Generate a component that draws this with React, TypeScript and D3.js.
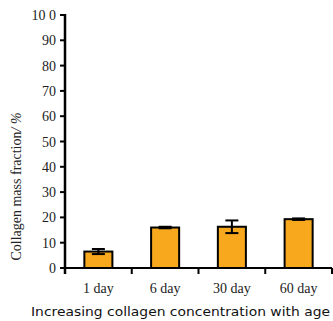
import React from "react";
import * as d3 from "d3";

const categories = ["1 day", "6 day", "30 day", "60 day"];
const values = [6.5, 16.0, 16.3, 19.3];
const errors = [1.0, 0.3, 2.5, 0.3];
const yTicks = [0, 10, 20, 30, 40, 50, 60, 70, 80, 90, 100];
const yTickLabels = ["0", "10", "20", "30", "40", "50", "60", "70", "80", "90", "10 0"];

const W = 333;
const H = 321;
const left = 65;
const right = 332;
const top = 15;
const bottom = 268;

export default function App() {
  const x = d3.scaleBand<string>().domain(categories).range([left, right]).paddingInner(0.58).paddingOuter(0.29);
  const xb = d3.scaleBand<string>().domain(categories).range([left, right]);
  const y = d3.scaleLinear().domain([0, 100]).range([bottom, top]);
  const cap = 13;
  return (
    <svg width={W} height={H} style={{ position: "absolute", left: 0, top: 0, background: "#fff" }}>
      {categories.map((c, i) => (
        <g key={c}>
          <rect x={x(c)} y={y(values[i])} width={x.bandwidth()} height={y(0) - y(values[i])} fill="#f8a81d" stroke="#000" strokeWidth={2} />
          <line x1={x(c)! + x.bandwidth() / 2} x2={x(c)! + x.bandwidth() / 2} y1={y(values[i] - errors[i])} y2={y(values[i] + errors[i])} stroke="#000" strokeWidth={2} />
          <line x1={x(c)! + x.bandwidth() / 2 - cap / 2} x2={x(c)! + x.bandwidth() / 2 + cap / 2} y1={y(values[i] + errors[i])} y2={y(values[i] + errors[i])} stroke="#000" strokeWidth={2} />
          <line x1={x(c)! + x.bandwidth() / 2 - cap / 2} x2={x(c)! + x.bandwidth() / 2 + cap / 2} y1={y(values[i] - errors[i])} y2={y(values[i] - errors[i])} stroke="#000" strokeWidth={2} />
          <text x={x(c)! + x.bandwidth() / 2} y={293} textAnchor="middle" fontFamily="Liberation Serif" fontSize={14} fill="#222">{c}</text>
        </g>
      ))}
      {categories.map((c) => (
        <line key={"t" + c} x1={xb(c)! + xb.bandwidth()} x2={xb(c)! + xb.bandwidth()} y1={bottom} y2={bottom + 6} stroke="#000" strokeWidth={2} />
      ))}
      <line x1={left} x2={right} y1={bottom} y2={bottom} stroke="#000" strokeWidth={2} />
      <line x1={left} x2={left} y1={top - 1} y2={bottom + 6} stroke="#000" strokeWidth={2.5} />
      {yTicks.map((t, i) => (
        <g key={t}>
          <line x1={left - 5} x2={left} y1={y(t)} y2={y(t)} stroke="#000" strokeWidth={2} />
          <text x={56} y={y(t) + 5} textAnchor="end" fontFamily="Liberation Serif" fontSize={14} fill="#222">{yTickLabels[i]}</text>
        </g>
      ))}
      <text transform={`translate(21,${(top + bottom) / 2 + 45}) rotate(-90)`} textAnchor="middle" fontFamily="Liberation Serif" fontSize={14} fill="#222">
        Collagen mass fraction<tspan fontStyle="italic">/ %</tspan>
      </text>
      <text x={31} y={316} textAnchor="start" textLength={299} lengthAdjust="spacingAndGlyphs" fontFamily="DejaVu Sans" fontSize={13} fill="#111">Increasing collagen concentration with age</text>
    </svg>
  );
}
